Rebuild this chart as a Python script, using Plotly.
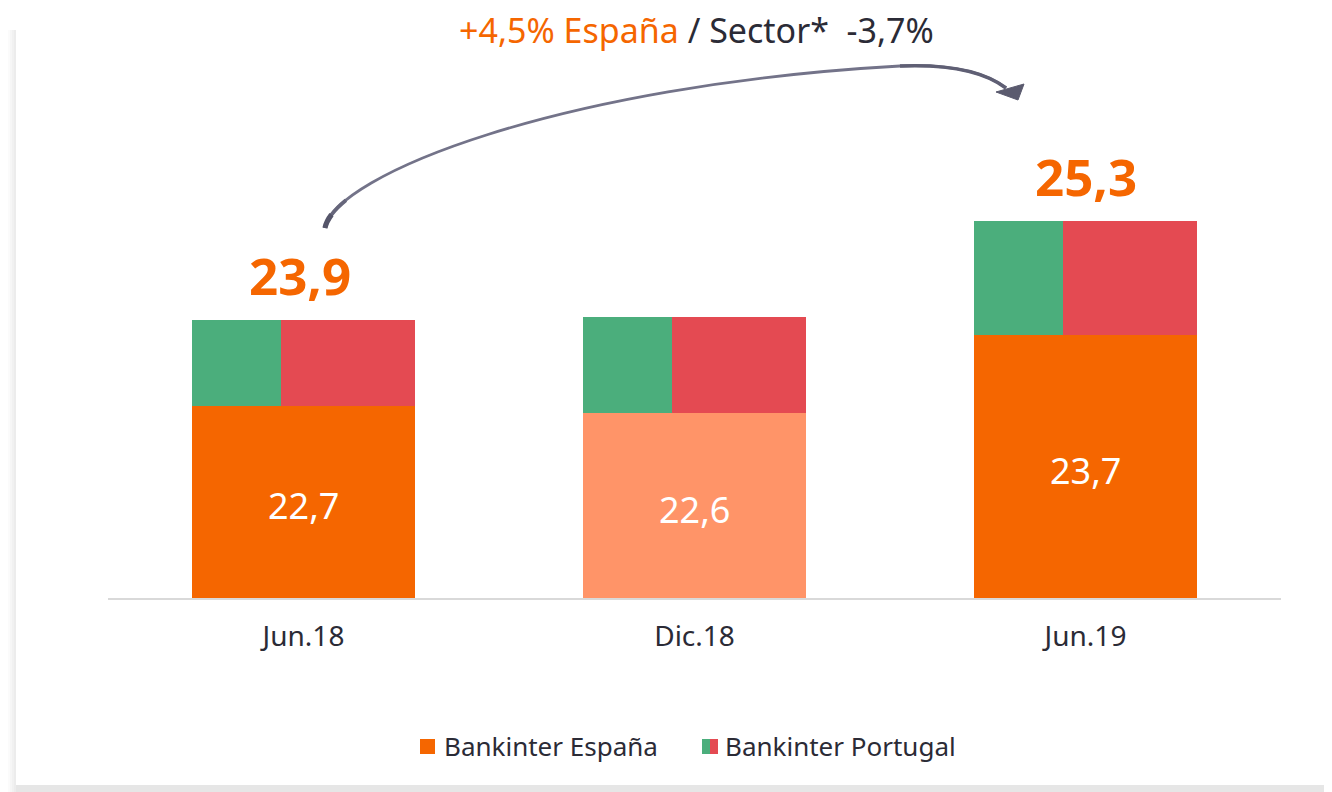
import plotly.graph_objects as go

categories = ["Jun.18", "Dic.18", "Jun.19"]
espana = [22.7, 22.6, 23.7]
portugal = [1.2, 1.35, 1.6]
totals = [23.9, 23.95, 25.3]
total_labels = ["23,9", "", "25,3"]
espana_labels = ["22,7", "22,6", "23,7"]
y_min, y_max = 20, 27.95

ORANGE = "#F56600"
LIGHT_ORANGE = "#FF9468"
GREEN = "#4BAE7C"
RED = "#E44A52"
TEXT = "#2B2B36"
FONT = "Noto Sans"

# page body has an 8px margin; figure sized and positioned to compensate
OFF = 8
W, H = 1332 - OFF, 792 - OFF
ML, MR, MT = 108 - OFF, 51, 32 - OFF
MB = H - (598 - OFF)
PW, PH = W - ML - MR, H - MT - MB


def px(x, y):
    return (x - OFF - ML) / PW, (H - MB - (y - OFF)) / PH


fig = go.Figure()
esp_colors = [ORANGE, LIGHT_ORANGE, ORANGE]
fig.add_bar(x=categories, y=espana, base=0, width=0.57, offset=-0.285,
            marker=dict(color=esp_colors, line=dict(width=0)), name="Bankinter España",
            showlegend=False)
fig.add_bar(x=categories, y=portugal, base=espana, width=0.228, offset=-0.285,
            marker=dict(color=GREEN, line=dict(width=0)), showlegend=False)
fig.add_bar(x=categories, y=portugal, base=espana, width=0.342, offset=-0.057,
            marker=dict(color=RED, line=dict(width=0)), showlegend=False)

ann = []
for c, v, lab in zip(categories, espana, espana_labels):
    ann.append(dict(x=c, y=(y_min + v) / 2, text=lab, showarrow=False, yshift=-4,
                    xanchor="center", yanchor="middle",
                    font=dict(family=FONT, size=36, color="white")))
for c, t, lab in zip(categories, totals, total_labels):
    if lab:
        ann.append(dict(x=c, y=t, text="<b>" + lab + "</b>", showarrow=False, yshift=45,
                        xanchor="center", yanchor="middle",
                        xshift=-4 if c == "Jun.18" else 0,
                        font=dict(family=FONT, size=51, color=ORANGE)))

tx, ty = px(696, 30)
title_text = '<span style="color:' + ORANGE + '">+4,5% España</span> / Sector*&nbsp;&nbsp;-3,7%'
ann.append(dict(xref="paper", yref="paper", x=tx, y=ty, showarrow=False,
                xanchor="center", yanchor="middle", borderpad=0,
                text=title_text, font=dict(family=FONT, size=34, color=TEXT)))

# legend
lx, ly = px(442, 746)
ann.append(dict(xref="paper", yref="paper", x=lx, y=ly, xanchor="left", yanchor="middle",
                showarrow=False, text="Bankinter España",
                font=dict(family=FONT, size=26, color=TEXT)))
lx2, _ = px(723, 746)
ann.append(dict(xref="paper", yref="paper", x=lx2, y=ly, xanchor="left", yanchor="middle",
                showarrow=False, text="Bankinter Portugal",
                font=dict(family=FONT, size=26, color=TEXT)))

shapes = []


def rect_px(x0, y0, x1, y1, color):
    a0, b0 = px(x0, y1)
    a1, b1 = px(x1, y0)
    shapes.append(dict(type="rect", xref="paper", yref="paper", x0=a0, y0=b0, x1=a1, y1=b1,
                       fillcolor=color, line=dict(width=0), layer="above"))


rect_px(420, 739, 435, 754, ORANGE)
rect_px(702, 739, 710, 754, GREEN)
rect_px(710, 739, 718, 754, RED)

# panel shadow
for i, col in enumerate(["#fbfbfb", "#f6f6f6", "#f1f1f1", "#ececec"]):
    rect_px(8 + 2 * i, 30, 10 + 2 * i, 792, col)
rect_px(16, 785, 1332, 792, "#e6e6e6")


def bez(points, color, width):
    pp = [px(x, y) for x, y in points]
    d = "M %f,%f" % pp[0]
    for i in range(1, len(pp), 3):
        d += " C %f,%f %f,%f %f,%f" % (pp[i] + pp[i + 1] + pp[i + 2])
    shapes.append(dict(type="path", xref="paper", yref="paper", path=d,
                       line=dict(color=color, width=width), layer="above"))


def split(p0, p1, p2, p3, t):
    # first part of a cubic bezier up to parameter t (de Casteljau)
    lerp = lambda a, b: (a[0] + (b[0] - a[0]) * t, a[1] + (b[1] - a[1]) * t)
    a, b, c = lerp(p0, p1), lerp(p1, p2), lerp(p2, p3)
    d, e = lerp(a, b), lerp(b, c)
    f = lerp(d, e)
    return [p0, a, d, f]


# curved arrow
seg1 = [(325, 228), (335, 175), (560, 85), (900, 66)]
seg2 = [(900, 66), (950, 64), (985, 72), (1006, 88)]
bez(seg1 + seg2[1:], "#737389", 2.8)
bez(split(*seg1, 0.16), "#66667b", 3.8)
bez(split(*seg1, 0.08), "#55556a", 5.2)
bez(seg2, "#5F5F74", 3.6)
head = [(996, 92), (1024, 84), (1018, 100)]
hp = [px(x, y) for x, y in head]
shapes.append(dict(type="path", xref="paper", yref="paper",
                   path="M %f,%f L %f,%f L %f,%f Z" % tuple(c for p in hp for c in p),
                   fillcolor="#5A5A6E", line=dict(color="#5A5A6E", width=1), layer="above"))

fig.update_layout(
    width=W, height=H, margin=dict(l=ML, r=MR, t=MT, b=MB),
    paper_bgcolor="white", plot_bgcolor="white", barmode="overlay", bargap=0,
    annotations=ann, shapes=shapes, showlegend=False,
    xaxis=dict(type="category", range=[-0.5, 2.5], showgrid=False, zeroline=False,
               showline=True, linecolor="#D9D9D9", linewidth=2, ticks="",
               tickfont=dict(family=FONT, size=28, color=TEXT), ticklabelstandoff=12),
    yaxis=dict(range=[y_min, y_max], visible=False, showgrid=False),
)
fig.write_html("out.html")
